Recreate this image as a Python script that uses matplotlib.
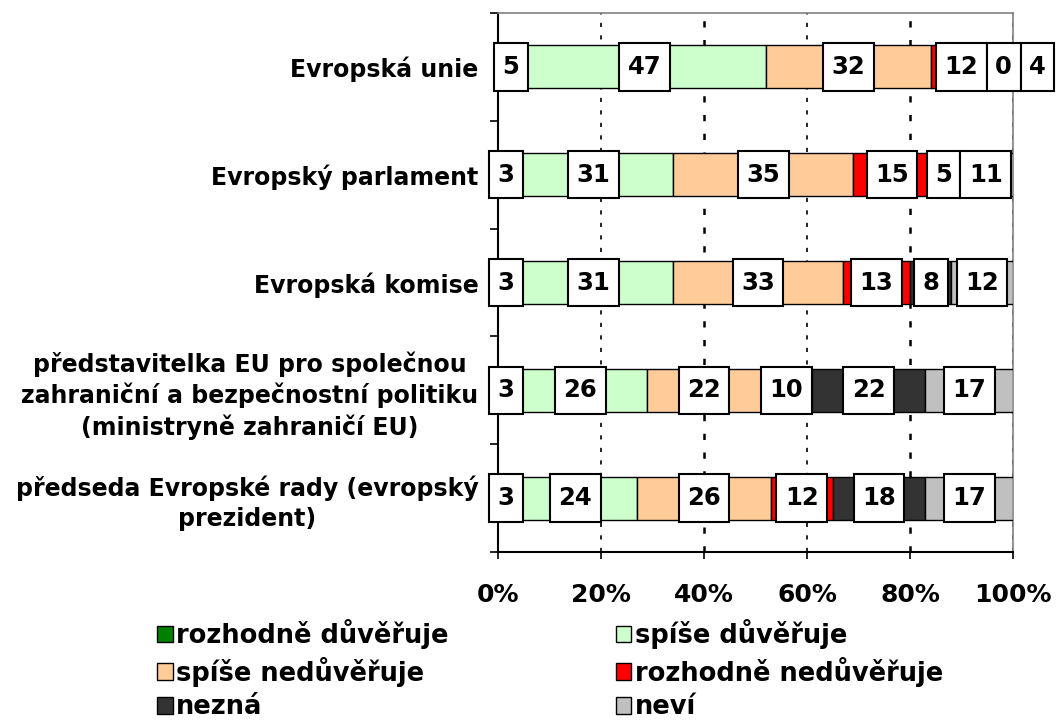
import matplotlib
matplotlib.use("Agg")
import matplotlib.pyplot as plt
from matplotlib.patches import Patch, Rectangle
import numpy as np

plt.rcParams['font.family'] = ['DejaVu Sans']
plt.rcParams['font.weight'] = 'bold'

categories = [
    "Evropská unie",
    "Evropský parlament",
    "Evropská komise",
    "představitelka EU pro společnou\nzahraniční a bezpečnostní politiku\n(ministryně zahraničí EU)",
    "předseda Evropské rady (evropský\nprezident)",
]
series_names = ["rozhodně důvěřuje", "spíše důvěřuje", "spíše nedůvěřuje",
                "rozhodně nedůvěřuje", "nezná", "neví"]
rozhodne_duveruje = [5, 3, 3, 3, 3]
spise_duveruje = [47, 31, 31, 26, 24]
spise_neduveruje = [32, 35, 33, 22, 26]
rozhodne_neduveruje = [12, 15, 13, 10, 12]
nezna = [0, 5, 8, 22, 18]
nevi = [4, 11, 12, 17, 17]
colors = ["#008000", "#CCFFCC", "#FFCC99", "#FF0000", "#333333", "#C0C0C0"]
xticks = [0, 20, 40, 60, 80, 100]
xticklabels = ["0%", "20%", "40%", "60%", "80%", "100%"]

series = [rozhodne_duveruje, spise_duveruje, spise_neduveruje,
          rozhodne_neduveruje, nezna, nevi]

W, H = 1056, 724
fig = plt.figure(figsize=(W / 100, H / 100), dpi=100)
ax = fig.add_axes([498 / W, 1 - 552 / H, (1013 - 498) / W, (552 - 13) / H])

y = np.arange(len(categories))
bar_h = 0.40
box_h = 0.44
left = np.zeros(len(categories))
for vals, col in zip(series, colors):
    v = np.array(vals, dtype=float)
    ax.barh(y, v, left=left, height=bar_h, color=col, edgecolor="black",
            linewidth=1.0, zorder=3)
    left += v

ax.set_xlim(0, 100)
ax.set_ylim(len(categories) - 0.5, -0.5)

# grid lines
for xv in [20, 40, 60, 80]:
    lw = 1.8 if xv in (40, 80) else 1.2
    ax.axvline(xv, color="black", linestyle=(0, (2.5, 5)), linewidth=lw, zorder=1)
ax.axvline(100, color="black", linestyle=(0, (2.5, 5)), linewidth=1.2, zorder=1)

for s in ["top", "right"]:
    ax.spines[s].set_color("#808080")
    ax.spines[s].set_linewidth(1.2)
for s in ["left", "bottom"]:
    ax.spines[s].set_color("black")
    ax.spines[s].set_linewidth(1.5)

ax.set_xticks(xticks)
ax.set_xticklabels(xticklabels, fontsize=18, fontweight="bold")
ax.tick_params(axis="x", direction="out", length=5, width=1.2, pad=17)
ax.set_yticks(y)
ax.set_yticklabels(categories, fontsize=17, fontweight="bold",
                   multialignment="center", linespacing=1.28)
ax.tick_params(axis="y", which="major", length=0, pad=14)
ax.set_yticks(np.arange(len(categories) + 1) - 0.5, minor=True)
ax.tick_params(axis="y", which="minor", direction="out", length=6, width=1.2)

# value labels in boxes
fig.canvas.draw()
renderer = fig.canvas.get_renderer()
to_data = ax.transData.inverted()
pad_px = 8.5
for i in range(len(categories)):
    start = 0.0
    prev_right = -1e9
    for vals in series:
        v = vals[i]
        center = start + v / 2.0
        start += v
        t = ax.text(center, y[i], str(v), ha="center", va="center",
                    fontsize=17.5, fontweight="bold", zorder=6)
        bb = t.get_window_extent(renderer)
        w_px = bb.width + 2 * pad_px
        cx_px = ax.transData.transform((center, y[i]))[0]
        l_px = max(cx_px - w_px / 2.0, prev_right)
        r_px = l_px + w_px
        prev_right = r_px
        x0 = to_data.transform((l_px, 0))[0]
        x1 = to_data.transform((r_px, 0))[0]
        t.set_x((x0 + x1) / 2.0)
        t.set_clip_on(False)
        rect = Rectangle((x0, y[i] - box_h / 2), x1 - x0, box_h,
                         facecolor="white", edgecolor="black", linewidth=1.5,
                         zorder=5, clip_on=False)
        ax.add_patch(rect)

handles = [Patch(facecolor=c, edgecolor="black", linewidth=1.0) for c in colors]
order = [0, 2, 4, 1, 3, 5]
fig.legend([handles[k] for k in order], [series_names[k] for k in order],
           ncol=2, loc="upper left", bbox_to_anchor=(157 / W, 1 - 619 / H),
           frameon=False, prop={"size": 18.5, "weight": "bold"},
           handlelength=0.62, handleheight=0.62, handletextpad=0.12,
           columnspacing=6.5, labelspacing=0.3, borderaxespad=0,
           borderpad=0)

fig.savefig("out.png", dpi=100)
